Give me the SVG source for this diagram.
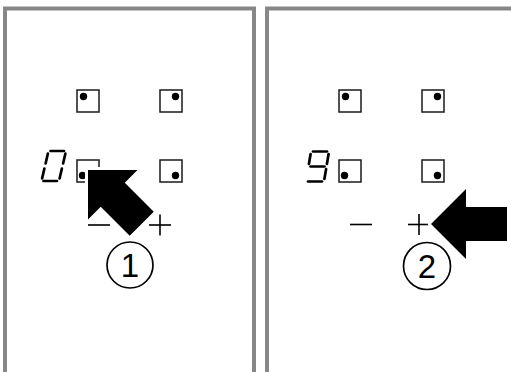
<svg xmlns="http://www.w3.org/2000/svg" width="511" height="372" viewBox="0 0 511 372">
<style>
.panel{fill:#fff;stroke:#878787;stroke-width:4}
.key{fill:#fff;stroke:#1a1a1a;stroke-width:1.5}
.dot{fill:#000}
.seg{stroke:#000;stroke-width:2.7;stroke-linecap:round;fill:none}
.sym{stroke:#000;stroke-width:1.6;fill:none}
.num{fill:none;stroke:#000;stroke-width:1.7}
.lbl{font-family:"Liberation Sans",Arial,sans-serif;font-size:33px;fill:#000;text-anchor:middle}
.halo{fill:#fff;stroke:#fff;stroke-width:6;stroke-linejoin:round}
.arrowfill{fill:#000}
</style>
<defs>
<path id="arrow" d="M0,0 L35,-35 L35,-17 L76,-17 L76,17 L35,17 L35,35 Z"/>
</defs>
<rect width="511" height="372" fill="#fff"/>
<g id="panel-left">
<rect class="panel" x="5" y="8.5" width="249" height="380"/>
</g>
<g id="panel-right">
<rect class="panel" x="267" y="8.5" width="260" height="380"/>
</g>
<g id="left-keys">
<g id="key-l1"><rect class="key" x="77" y="90" width="22" height="22"/><circle class="dot" cx="83.5" cy="96.5" r="3.7"/></g>
<g id="key-l2"><rect class="key" x="160" y="90" width="22" height="22"/><circle class="dot" cx="175.5" cy="96.5" r="3.7"/></g>
<g id="key-l3"><rect class="key" x="77" y="160" width="22" height="22"/><circle class="dot" cx="82.5" cy="175.5" r="3.7"/></g>
<g id="key-l4"><rect class="key" x="160" y="160" width="22" height="22"/><circle class="dot" cx="175.5" cy="175.5" r="3.7"/></g>
</g>
<g id="display-0">
<line class="seg" x1="50.5" y1="151" x2="64" y2="151"/>
<line class="seg" x1="43.5" y1="181" x2="57" y2="181"/>
<line class="seg" x1="47.9" y1="153.5" x2="45.6" y2="163.5"/>
<line class="seg" x1="44.4" y1="168.5" x2="42.1" y2="178.5"/>
<line class="seg" x1="65.4" y1="153.5" x2="63.1" y2="163.5"/>
<line class="seg" x1="61.9" y1="168.5" x2="59.6" y2="178.5"/>
</g>
<g id="minus-l"><line class="sym" x1="88" y1="225" x2="110" y2="225"/></g>
<g id="plus-l"><line class="sym" x1="149" y1="225" x2="171" y2="225"/><line class="sym" x1="160" y1="214.5" x2="160" y2="235.5"/></g>
<g id="arrow-1">
<use href="#arrow" class="halo" transform="translate(88,170) rotate(45)"/>
<use href="#arrow" class="arrowfill" transform="translate(88,170) rotate(45)"/>
</g>
<g id="callout-1">
<circle class="num" cx="130" cy="265" r="23"/>
<text class="lbl" x="130" y="277">1</text>
</g>
<g id="right-keys">
<g id="key-r1"><rect class="key" x="339" y="90" width="22" height="22"/><circle class="dot" cx="345.5" cy="96.5" r="3.7"/></g>
<g id="key-r2"><rect class="key" x="422" y="90" width="22" height="22"/><circle class="dot" cx="437.5" cy="96.5" r="3.7"/></g>
<g id="key-r3"><rect class="key" x="339" y="160" width="22" height="22"/><circle class="dot" cx="344.5" cy="175.5" r="3.7"/></g>
<g id="key-r4"><rect class="key" x="422" y="160" width="22" height="22"/><circle class="dot" cx="437.5" cy="175.5" r="3.7"/></g>
</g>
<g id="display-9">
<line class="seg" x1="313" y1="151.5" x2="327" y2="151.5"/>
<line class="seg" x1="310.5" y1="166.5" x2="324.5" y2="166.5"/>
<line class="seg" x1="308" y1="181.5" x2="322" y2="181.5"/>
<line class="seg" x1="310.6" y1="154" x2="308.9" y2="164"/>
<line class="seg" x1="328.6" y1="154" x2="326.9" y2="164"/>
<line class="seg" x1="326.1" y1="169" x2="324.4" y2="179"/>
</g>
<g id="minus-r"><line class="sym" x1="350" y1="224.5" x2="372" y2="224.5"/></g>
<g id="plus-r"><line class="sym" x1="408" y1="224.5" x2="430" y2="224.5"/><line class="sym" x1="419" y1="214" x2="419" y2="235"/></g>
<g id="arrow-2">
<use href="#arrow" class="halo" transform="translate(431,224)"/>
<use href="#arrow" class="arrowfill" transform="translate(431,224)"/>
</g>
<g id="callout-2">
<circle class="num" cx="427" cy="266" r="23.5"/>
<text class="lbl" x="427" y="278">2</text>
</g>
</svg>
